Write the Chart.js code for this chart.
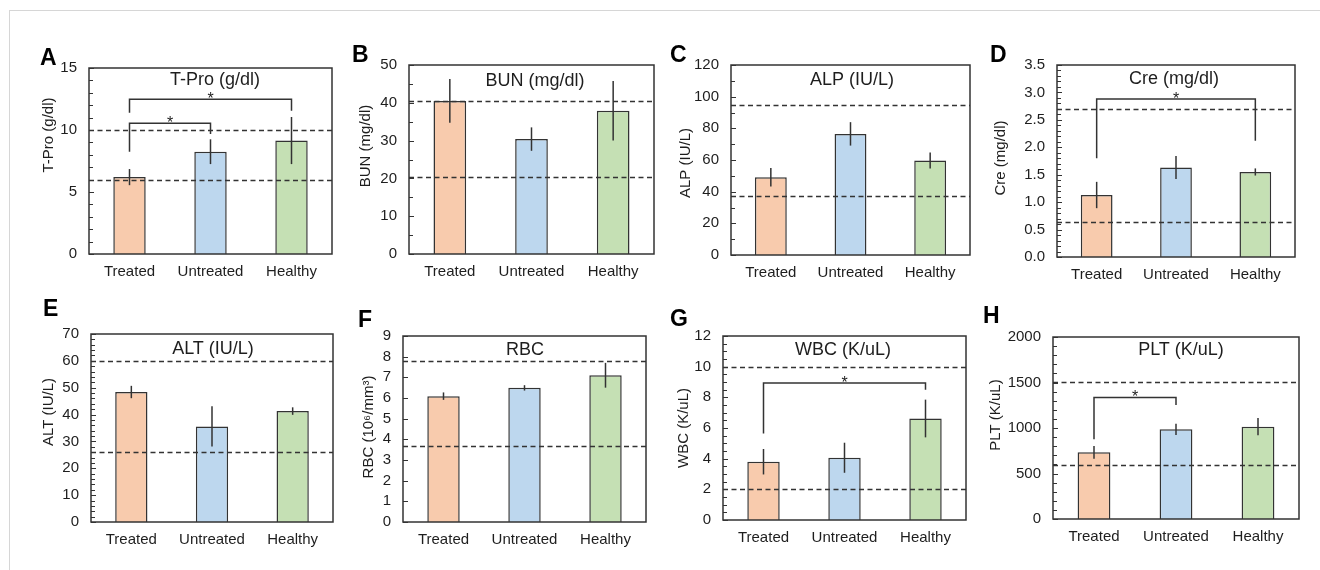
<!DOCTYPE html>
<html><head><meta charset="utf-8">
<script src="https://cdn.jsdelivr.net/npm/chart.js@4.4.0/dist/chart.umd.min.js"></script>
<style>
html,body{margin:0;padding:0;background:#fff;}
body{width:1320px;height:570px;position:relative;overflow:hidden;}
#frame{position:absolute;left:9px;top:10px;width:1320px;height:570px;border-top:1px solid #d6d6d6;border-left:1px solid #d6d6d6;}
canvas{position:absolute;}
</style></head><body>
<div id="frame"></div>
<script>
// ---------- data ----------
const categories = ['Treated', 'Untreated', 'Healthy'];
const barColors = ['#F8CBAD', '#BDD7EE', '#C5E0B4'];

const tproMean = [6.2, 8.25, 9.15];   const tproErr = [0.65, 1.0, 1.9];    const tproRef = [10, 6];
const bunMean  = [40.5, 30.4, 37.9];  const bunErr  = [5.8, 3.1, 7.9];     const bunRef  = [40.5, 20.5];
const alpMean  = [49.1, 76.5, 59.7];  const alpErr  = [5.8, 7.4, 5.0];     const alpRef  = [95, 37.3];
const creMean  = [1.13, 1.63, 1.55];  const creErr  = [0.24, 0.21, 0.065]; const creRef  = [2.7, 0.64];
const altMean  = [48.4, 35.6, 41.3];  const altErr  = [2.3, 7.5, 1.4];     const altRef  = [60, 26];
const rbcMean  = [6.09, 6.49, 7.1];   const rbcErr  = [0.18, 0.13, 0.6];   const rbcRef  = [7.8, 3.7];
const wbcMean  = [3.8, 4.06, 6.62];   const wbcErr  = [0.83, 0.98, 1.23];  const wbcRef  = [10, 2.05];
const pltMean  = [733, 985, 1014];    const pltErr  = [70, 62, 95];        const pltRef  = [1510, 595];

// significance brackets: [fromIndex, toIndex, barTopValue, leftLegEnd, rightLegEnd]
const tproSig = [[0, 2, 12.47, 11.4, 11.55], [0, 1, 10.54, 8.25, 9.68]];
const creSig  = [[0, 2, 2.88, 1.80, 2.12]];
const wbcSig  = [[0, 2, 8.94, 5.64, 8.5]];
const pltSig  = [[0, 1, 1336, 876, 1252]];

const panelLetters = ['A','B','C','D','E','F','G','H'];
const panelTitles  = ['T-Pro (g/dl)','BUN (mg/dl)','ALP (IU/L)','Cre (mg/dl)','ALT (IU/L)','RBC','WBC (K/uL)','PLT (K/uL)'];
const yAxisTitles  = ['T-Pro (g/dl)','BUN (mg/dl)','ALP (IU/L)','Cre (mg/dl)','ALT (IU/L)','RBC (10\u2076/mm\u00B3)','WBC (K/uL)','PLT (K/uL)'];
const yMax   = [15, 50, 120, 3.5, 70, 9, 12, 2000];
const yStep  = [5, 10, 20, 0.5, 10, 1, 2, 500];
const yMinor = [1, 5, 10, 0.1, 2, 0, 0.5, 100];
const yDecimals = [0, 0, 0, 1, 0, 0, 0, 0];

// ---------- layout (page pixels) ----------
const layouts = [
  {plot:[89,68,332,254],    letter:[40,65],    ytitle:[49,135],   title:[215,80]},
  {plot:[409,65,654,254],   letter:[352,62],   ytitle:[366,146],  title:[535,81]},
  {plot:[731,65,970,255],   letter:[670,62],   ytitle:[686,163],  title:[852,80]},
  {plot:[1057,65,1295,257], letter:[990,62],   ytitle:[1001,158], title:[1174,79]},
  {plot:[91,334,333,522],   letter:[43,316],   ytitle:[49,412],   title:[213,349]},
  {plot:[403,336,646,522],  letter:[358,327],  ytitle:[369,427],  title:[525,350]},
  {plot:[723,336,966,520],  letter:[670,326],  ytitle:[684,428],  title:[843,350]},
  {plot:[1053,337,1299,519],letter:[983,323],  ytitle:[996,415],  title:[1181,350]}
];

const means = [tproMean, bunMean, alpMean, creMean, altMean, rbcMean, wbcMean, pltMean];
const errs  = [tproErr, bunErr, alpErr, creErr, altErr, rbcErr, wbcErr, pltErr];
const refs  = [tproRef, bunRef, alpRef, creRef, altRef, rbcRef, wbcRef, pltRef];
const sigs  = [tproSig, [], [], creSig, [], [], wbcSig, pltSig];

const FONT = '"Liberation Sans", Arial, Helvetica, sans-serif';
const INK = '#333333';
const TXT = '#1e1e1e';
const PADL = 80, PADT = 35, PADR = 10, XH = 30;

const extras = {
  id: 'extras',
  afterDatasetsDraw(chart, args, o) {
    const {ctx, chartArea: a, scales: {x, y}} = chart;
    ctx.save();
    // reference (normal range) lines
    ctx.strokeStyle = INK; ctx.lineWidth = 1.3; ctx.setLineDash([5, 3.5]);
    o.ref.forEach(v => {
      const py = Math.round(y.getPixelForValue(v)) + 0.5;
      ctx.beginPath(); ctx.moveTo(a.left, py); ctx.lineTo(a.right, py); ctx.stroke();
    });
    ctx.setLineDash([]);
    // error bars
    ctx.lineWidth = 1.5; ctx.strokeStyle = INK;
    o.mean.forEach((m, i) => {
      const px = x.getPixelForValue(i);
      ctx.beginPath();
      ctx.moveTo(px, y.getPixelForValue(m - o.err[i]));
      ctx.lineTo(px, y.getPixelForValue(m + o.err[i]));
      ctx.stroke();
    });
    // plot frame
    ctx.lineWidth = 1.5; ctx.strokeStyle = INK;
    ctx.strokeRect(a.left, a.top, a.right - a.left, a.bottom - a.top);
    // inward ticks on left axis
    ctx.lineWidth = 1;
    const n = Math.round(o.max / o.step);
    for (let k = 0; k <= n; k++) {
      const py = Math.round(y.getPixelForValue(k * o.step)) + 0.5;
      ctx.beginPath(); ctx.moveTo(a.left, py); ctx.lineTo(a.left + 5, py); ctx.stroke();
    }
    if (o.minor > 0) {
      const m = Math.round(o.max / o.minor);
      for (let k = 0; k <= m; k++) {
        const py = Math.round(y.getPixelForValue(k * o.minor)) + 0.5;
        ctx.beginPath(); ctx.moveTo(a.left, py); ctx.lineTo(a.left + 4, py); ctx.stroke();
      }
    }
    // significance brackets
    ctx.lineWidth = 1.5; ctx.strokeStyle = INK;
    o.sig.forEach(s => {
      const x1 = x.getPixelForValue(s[0]), x2 = x.getPixelForValue(s[1]);
      const yt = y.getPixelForValue(s[2]);
      ctx.beginPath();
      ctx.moveTo(x1, y.getPixelForValue(s[3]));
      ctx.lineTo(x1, yt); ctx.lineTo(x2, yt);
      ctx.lineTo(x2, y.getPixelForValue(s[4]));
      ctx.stroke();
      ctx.fillStyle = TXT; ctx.font = '16px ' + FONT;
      ctx.textAlign = 'center'; ctx.textBaseline = 'alphabetic';
      ctx.fillText('*', (x1 + x2) / 2, yt + 5);
    });
    // texts
    const ox = o.origin[0], oy = o.origin[1];
    ctx.fillStyle = TXT;
    ctx.font = '18px ' + FONT; ctx.textAlign = 'center'; ctx.textBaseline = 'middle';
    ctx.fillText(o.title, o.titlePos[0] - ox, o.titlePos[1] - oy);
    ctx.fillStyle = '#000';
    ctx.font = 'bold 23px ' + FONT; ctx.textAlign = 'left'; ctx.textBaseline = 'alphabetic';
    ctx.fillText(o.letter, o.letterPos[0] - ox, o.letterPos[1] - oy);
    ctx.fillStyle = TXT;
    ctx.font = '15px ' + FONT; ctx.textAlign = 'center'; ctx.textBaseline = 'middle';
    ctx.translate(o.ytitlePos[0] - ox, o.ytitlePos[1] - oy);
    ctx.rotate(-Math.PI / 2);
    ctx.fillText(o.ytitle, 0, 0);
    ctx.restore();
  }
};
Chart.register(extras);

layouts.forEach((L, p) => {
  const [l, t, r, b] = L.plot;
  const cv = document.createElement('canvas');
  const cl = l - PADL, ct = t - PADT;
  cv.width = (r - l) + PADL + PADR;
  cv.height = (b - t) + PADT + XH;
  cv.style.left = cl + 'px'; cv.style.top = ct + 'px';
  document.body.appendChild(cv);
  new Chart(cv, {
    type: 'bar',
    data: {
      labels: categories,
      datasets: [{
        data: means[p],
        backgroundColor: barColors,
        borderColor: INK,
        borderWidth: 1.5,
        barPercentage: 0.4,
        categoryPercentage: 1
      }]
    },
    options: {
      responsive: false, animation: false, devicePixelRatio: 1,
      layout: {padding: {left: 0, top: PADT, right: PADR, bottom: 0}},
      plugins: {
        legend: {display: false}, tooltip: {enabled: false},
        extras: {
          mean: means[p], err: errs[p], ref: refs[p], sig: sigs[p],
          max: yMax[p], step: yStep[p], minor: yMinor[p],
          title: panelTitles[p], letter: panelLetters[p], ytitle: yAxisTitles[p],
          titlePos: L.title, letterPos: L.letter, ytitlePos: L.ytitle, origin: [cl, ct]
        }
      },
      scales: {
        x: {
          grid: {display: false, drawTicks: false}, border: {display: false},
          ticks: {padding: 9, color: TXT, font: {size: 15, family: FONT}, maxRotation: 0},
          afterFit(s) { s.height = XH; }
        },
        y: {
          min: 0, max: yMax[p],
          grid: {display: false, drawTicks: false}, border: {display: false},
          ticks: {
            stepSize: yStep[p], padding: 12, color: TXT, font: {size: 15, family: FONT},
            autoSkip: false,
            callback: v => Number(v).toFixed(yDecimals[p])
          },
          afterFit(s) { s.width = PADL; }
        }
      }
    }
  });
});
</script>
</body></html>
